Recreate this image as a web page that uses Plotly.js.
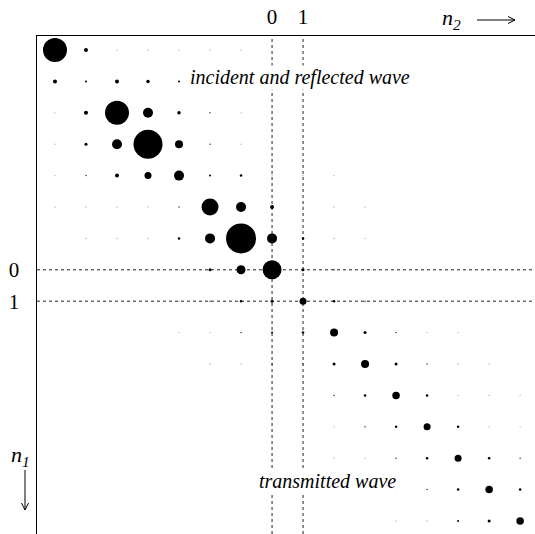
<!DOCTYPE html>
<html>
<head>
<meta charset="utf-8">
<script src="https://cdn.plot.ly/plotly-3.0.1.min.js"></script>
<style>html,body{margin:0;padding:0;background:#fff;}#chart{width:535px;height:534px;}</style>
</head>
<body>
<div id="chart"></div>
<script>
// Scattering matrix: rows n1 (incoming), columns n2 (outgoing)
const n1Values = [-7,-6,-5,-4,-3,-2,-1,0,1,2,3,4,5,6,7,8];
const n2Values = [-7,-6,-5,-4,-3,-2,-1,0,1,2,3,4,5,6,7,8];
const tickValues = [0, 1];
const tickLabels = ["0", "1"];
// relative amplitude of each matrix element (0 = not shown)
const amplitudes = [
  [24, 4, 1, 1, 1, 1, 0.8, 0, 0, 0, 0, 0, 0, 0, 0, 0],
  [4, 2, 4, 3.5, 2, 0, 0, 0, 0, 0, 0, 0, 0, 0, 0, 0],
  [1, 4, 24, 10, 3.5, 1.5, 1, 0, 0, 0, 0, 0, 0, 0, 0, 0],
  [1, 3, 10, 29, 8, 1.5, 1, 0, 0, 0, 0, 0, 0, 0, 0, 0],
  [1, 1.5, 4, 7, 10, 2, 2.5, 1, 1, 1, 0, 0, 0, 0, 0, 0],
  [1, 1, 1, 1, 1.5, 17, 10, 4, 1, 1, 1, 0, 0, 0, 0, 0],
  [0, 0.8, 0.8, 0.8, 2.5, 10, 30, 10, 2.5, 1, 1, 0, 0, 0, 0, 0],
  [0, 0, 0, 0.8, 1, 3, 9, 19, 3, 1.5, 0.8, 0, 0, 0, 0, 0],
  [0, 0, 0, 0, 1, 1.5, 2.5, 3, 7, 2.5, 1.5, 0.8, 0, 0, 0, 0],
  [0, 0, 0, 0, 0.8, 0.8, 1.5, 2, 2.5, 8, 3, 1.5, 1, 1, 0, 0],
  [0, 0, 0, 0, 0, 0.8, 0.8, 1.5, 1.5, 3, 8, 3, 1.5, 1, 0.8, 0],
  [0, 0, 0, 0, 0, 0, 0, 0.8, 1, 1.5, 2.5, 7.5, 2.5, 1, 0.8, 0.8],
  [0, 0, 0, 0, 0, 0, 0, 0, 0, 0.8, 1.5, 2.5, 7, 2.5, 1, 1],
  [0, 0, 0, 0, 0, 0, 0, 0, 0, 0.8, 0.8, 1.5, 2.5, 7, 2.5, 1.5],
  [0, 0, 0, 0, 0, 0, 0, 0, 0, 0, 0, 0.8, 1.5, 2.5, 7.5, 2.5],
  [0, 0, 0, 0, 0, 0, 0, 0, 0, 0, 0, 0.8, 1, 2, 3, 7.5]
];

const xs = [], ys = [], sz = [], cols = [];
n1Values.forEach((r, i) => {
  n2Values.forEach((c, j) => {
    const a = amplitudes[i][j];
    if (a > 0) {
      xs.push(c); ys.push(r);
      sz.push(Math.max(a, 1.3));
      cols.push(a < 1.2 ? '#aaa' : (a < 2 ? '#333' : '#000'));
    }
  });
});

const serif = 'Liberation Serif';
const W = 535, H = 534, L = 37, T = 36, PW = W - L, PH = H - T;
const px = v => (v - L) / PW;
const py = v => 1 - (v - T) / PH;

const trace = {
  type: 'scatter', mode: 'markers', x: xs, y: ys,
  marker: {size: sz, sizemode: 'diameter', color: cols, opacity: 1, line: {width: 0}},
  hoverinfo: 'skip', showlegend: false
};

const dash = {color: '#222', width: 1, dash: '3px,3px'};
const shapes = [];
tickValues.forEach(v => {
  shapes.push({type: 'line', xref: 'x', yref: 'paper', x0: v, x1: v, y0: 0, y1: 1, line: dash, layer: 'below'});
  shapes.push({type: 'line', xref: 'paper', yref: 'y', x0: 0, x1: 1, y0: v, y1: v, line: dash, layer: 'below'});
});
// direction arrows next to the axis names
const arrowLine = {color: '#000', width: 1};
shapes.push({type: 'path', xref: 'paper', yref: 'paper', line: arrowLine,
  path: `M${px(477)},${py(20)} L${px(515)},${py(20)} M${px(508)},${py(16.5)} L${px(515)},${py(20)} L${px(508)},${py(23.5)}`});
shapes.push({type: 'path', xref: 'paper', yref: 'paper', line: arrowLine,
  path: `M${px(25)},${py(470)} L${px(25)},${py(510)} M${px(21.5)},${py(503)} L${px(25)},${py(510)} L${px(28.5)},${py(503)}`});

const layout = {
  width: W, height: H,
  margin: {l: L, r: 0, t: T, b: 0, pad: 0},
  paper_bgcolor: '#fff', plot_bgcolor: '#fff',
  xaxis: {
    side: 'top', range: [-7.58, 8.48], showline: true, linecolor: '#000', linewidth: 1.5,
    showgrid: false, zeroline: false, ticks: '', tickvals: tickValues, ticktext: tickLabels,
    tickfont: {family: serif, size: 21, color: '#000'}, fixedrange: true, ticklabelstandoff: 2
  },
  yaxis: {
    range: [8.414, -7.446], showline: true, linecolor: '#000', linewidth: 1.5,
    showgrid: false, zeroline: false, ticks: '', tickvals: tickValues, ticktext: tickLabels,
    tickfont: {family: serif, size: 21, color: '#000'}, fixedrange: true, ticklabelstandoff: 12
  },
  shapes: shapes,
  annotations: [
    {text: 'incident and reflected wave', xref: 'x', yref: 'y', x: 0.9, y: -6.12,
     showarrow: false, font: {family: serif, size: 20, color: '#000', style: 'italic'}, bgcolor: '#fff', borderpad: 0},
    {text: 'transmitted wave', xref: 'x', yref: 'y', x: 1.8, y: 6.73,
     showarrow: false, font: {family: serif, size: 20, color: '#000', style: 'italic'}, bgcolor: '#fff', borderpad: 0},
    {text: 'n<sub>2</sub>', xref: 'paper', yref: 'paper', x: px(451), y: py(19),
     xanchor: 'center', yanchor: 'middle',
     showarrow: false, font: {family: serif, size: 22, color: '#000', style: 'italic'}},
    {text: 'n<sub>1</sub>', xref: 'paper', yref: 'paper', x: px(20), y: py(456),
     xanchor: 'center', yanchor: 'middle',
     showarrow: false, font: {family: serif, size: 22, color: '#000', style: 'italic'}}
  ]
};

Plotly.newPlot('chart', [trace], layout, {displayModeBar: false, staticPlot: true});
</script>
</body>
</html>
